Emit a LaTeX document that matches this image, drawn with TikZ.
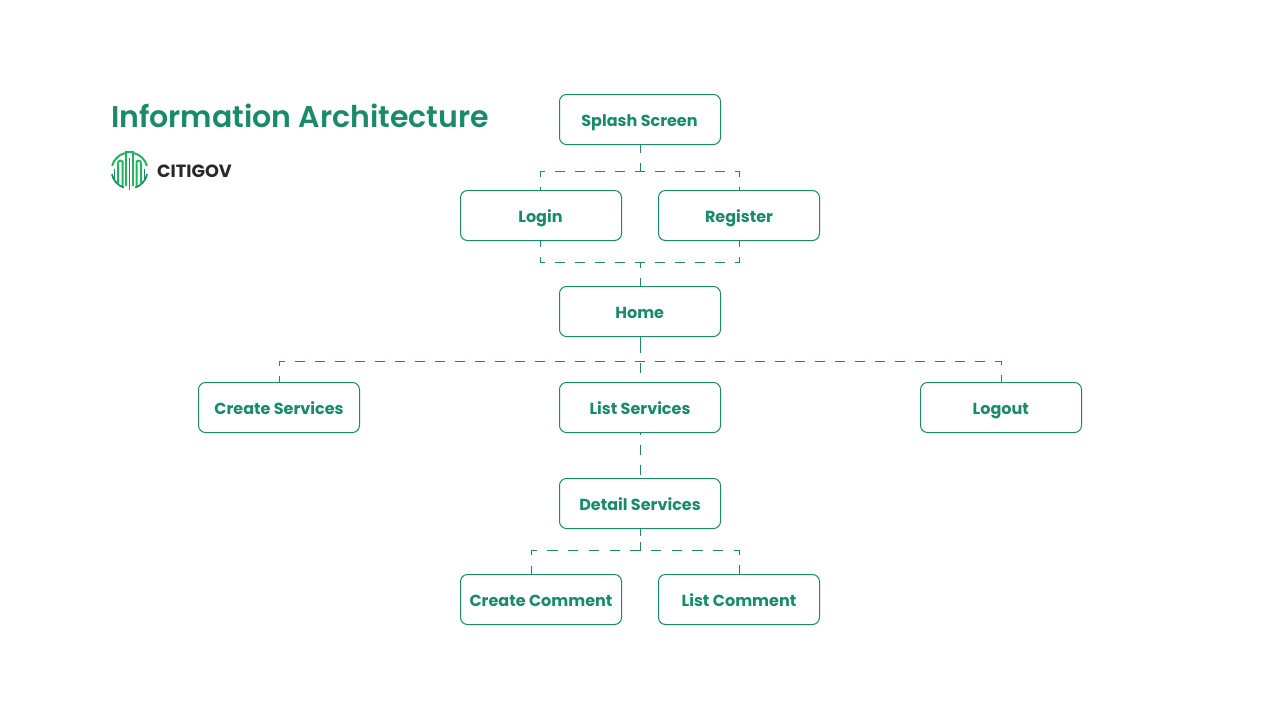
\documentclass[tikz,border=0pt]{standalone}
\usepackage{fontspec}
\setmainfont{Poppins}
\newfontfamily\popsemi{Poppins SemiBold}
\usetikzlibrary{calc}
\definecolor{ia}{HTML}{1B8A6B}
\definecolor{logog}{HTML}{1FB45F}
\definecolor{logod}{HTML}{178C62}
\definecolor{logot}{HTML}{26282B}
\tikzset{
 x=1pt,y=-1pt,
 box/.style={draw=ia,line width=1pt,rounded corners=7pt,minimum width=161pt,minimum height=50pt,inner sep=0pt,text=ia,text height=14.8pt,text depth=0pt,font=\fontsize{16}{18}\selectfont\bfseries,fill=white},
 link/.style={draw=ia,line width=1pt,dash pattern=on 10pt off 10pt},
 buslow/.style={draw=ia,line width=1pt,dash pattern=on 10.3pt off 10.4pt},
 logoline/.style={draw=logog,line width=2pt},
 logolow/.style={draw=logod,line width=1.7pt},
}
\begin{document}
\begin{tikzpicture}
\useasboundingbox (0,0) rectangle (1280,720);
\node[anchor=west,text=ia,font=\fontsize{30}{34}\popsemi,inner sep=0pt] (title) at (111,115.5) {Information Architecture};
\node[anchor=west,text=logot,font=\fontsize{17.7}{20}\bfseries,inner sep=0pt] (brand) at (157,171) {CITIGOV};
% logo: ring segments (angles in the flipped y frame)
\draw[logoline] (129.5,170.5) ++(-15:18) arc (-15:-75:18);
\draw[logoline] (129.5,170.5) ++(-105:18) arc (-105:-165:18);
\draw[logolow] (129.5,170.5) ++(12:18) arc (12:72:18);
\draw[logolow] (129.5,170.5) ++(108:18) arc (108:168:18);
\draw[logoline] (126,186) -- (126,152) -- (133,152) -- (133,186);
\draw[logolow] (129.5,158) -- (129.5,189.5);
\draw[logoline] (122.5,186) -- (122.5,161.5) .. controls (120,159.5) and (118,161) .. (118,164) -- (118,184);
\draw[logoline] (136.5,186) -- (136.5,161.5) .. controls (139,159.5) and (141,161) .. (141,164) -- (141,184);
\draw[logolow] (114.5,180) -- (114.5,169);
\draw[logolow] (144.5,180) -- (144.5,169);
% boxes
\node[box] (splash) at (640,119.5) {\kern-1pt Splash Screen};
\node[box] (login) at (541,215.5) {\kern-1pt Login};
\node[box] (register) at (739,215.5) {Register};
\node[box] (home) at (640,311.5) {\kern-.5pt Home};
\node[box] (create) at (279,407.5) {Create Services};
\node[box] (list) at (640,407.5) {List Services};
\node[box] (logout) at (1001,407.5) {\kern-.5pt Logout};
\node[box] (detail) at (640,503.5) {Detail Services};
\node[box] (ccomment) at (541,599.5) {Create Comment};
\node[box] (lcomment) at (739,599.5) {List Comment};
% connectors
\coordinate (j1) at (640.5,171.5);
\coordinate (j2) at (640.5,262.5);
\coordinate (j3) at (640.5,361.5);
\coordinate (j4) at (640.5,550.5);
\draw[link,dash phase=2pt] ($(splash.south)+(0.5,0)$) -- (j1);
\draw[link,dash phase=4.5pt] (j1) -| ($(login.north)+(-0.5,0)$);
\draw[link,dash phase=5.5pt] (j1) -| ($(register.north)+(0.5,0)$);
\draw[link,dash phase=4.5pt] (j2) -| ($(login.south)+(-0.5,0)$);
\draw[link,dash phase=5.5pt] (j2) -| ($(register.south)+(0.5,0)$);
\draw[link,dash phase=5pt] (j2) -- ($(home.north)+(0.5,0)$);
\draw[draw=ia,line width=1pt,dash pattern=on 16pt off 10pt on 10pt off 20pt] ($(home.south)+(0.5,0)$) -- ($(list.north)+(0.5,0)$);
\draw[link,dash phase=4.5pt] (j3) -| ($(create.north)+(0.5,0)$);
\draw[link,dash phase=5.5pt] (j3) -| ($(logout.north)+(0.5,0)$);
\draw[link,dash phase=8pt] ($(list.south)+(0.5,0)$) -- ($(detail.north)+(0.5,0)$);
\draw[draw=ia,line width=1pt,dash pattern=on 7pt off 6pt on 10pt off 10pt] ($(detail.south)+(0.5,0)$) -- (j4);
\draw[buslow] (j4) -| ($(ccomment.north)+(-9.5,0)$);
\draw[buslow,dash phase=10.3pt] (j4) -| ($(lcomment.north)+(0.5,0)$);
\end{tikzpicture}
\end{document}
